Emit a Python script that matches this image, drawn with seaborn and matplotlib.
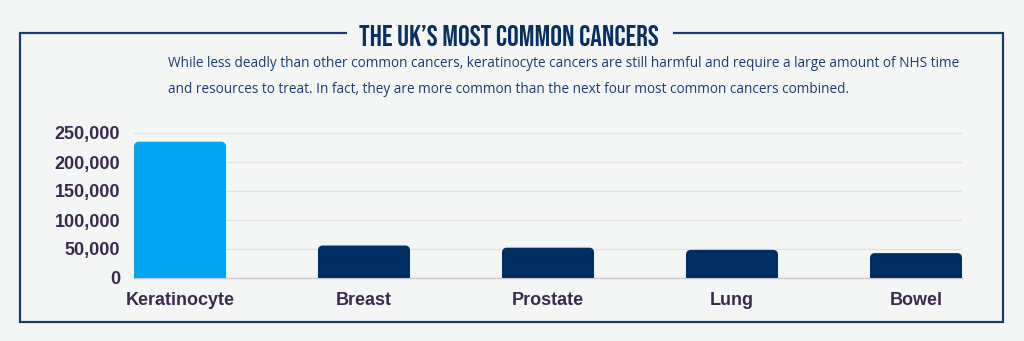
import matplotlib
matplotlib.use("Agg")
import matplotlib.pyplot as plt
import seaborn as sns
import pandas as pd
from matplotlib import font_manager
from matplotlib.patches import Rectangle, FancyBboxPatch
from matplotlib.ticker import FuncFormatter

categories = ["Keratinocyte", "Breast", "Prostate", "Lung", "Bowel"]
cases = [235000, 56000, 52300, 48500, 42900]
bar_colors = ["#00a6f0", "#002d62", "#002d62", "#002d62", "#002d62"]
y_ticks = [0, 50000, 100000, 150000, 200000, 250000]
title = "THE UK\u2019S MOST COMMON CANCERS"
subtitle = ("While less deadly than other common cancers, keratinocyte cancers are still harmful and require a large amount of NHS time\n"
            "and resources to treat. In fact, they are more common than the next four most common cancers combined.")

BG = "#f4f6f5"
NAVY = "#1d3b6e"
LABEL = "#3a2a4d"

available = {f.name for f in font_manager.fontManager.ttflist}
title_fonts = [f for f in ["Bebas Neue", "Oswald", "Liberation Sans Narrow"] if f in available] + ["DejaVu Sans"]

sns.set_theme(style="white")
plt.rcParams["font.family"] = ["Liberation Sans", "DejaVu Sans"]

fig = plt.figure(figsize=(10.24, 3.41), dpi=100, facecolor=BG)
ax = fig.add_axes([134/1024, 63/341, 828/1024, 145/341])
ax.set_facecolor(BG)

df = pd.DataFrame({"cat": categories, "val": cases})
sns.barplot(data=df, x="cat", y="val", hue="cat", palette=bar_colors,
            legend=False, width=0.5, saturation=1, ax=ax, zorder=3)

ax.set_xlim(-0.25, 4.25)
ax.set_ylim(0, 250000)
ax.set_yticks(y_ticks)
ax.yaxis.set_major_formatter(FuncFormatter(lambda v, p: f"{int(v):,}"))
ax.grid(axis="y", color="#e2e2e2", linewidth=1, zorder=0)
ax.set_xlabel("")
ax.set_ylabel("")
for s in ["top", "right", "left"]:
    ax.spines[s].set_visible(False)
ax.spines["bottom"].set_color("#cfc6d6")
ax.spines["bottom"].set_linewidth(1)
ax.tick_params(axis="both", length=0)
ax.tick_params(axis="y", pad=10)
ax.tick_params(axis="x", pad=10)
for lab in ax.get_yticklabels() + ax.get_xticklabels():
    lab.set_fontsize(13)
    lab.set_fontweight("bold")
    lab.set_color(LABEL)

# Rounded top corners
for p in list(ax.patches):
    x0, w, h = p.get_x(), p.get_width(), p.get_height()
    fc = p.get_facecolor()
    p.set_visible(False)
    r_y = 5 * 250000 / 145
    r_x = 5 * 4.5 / 828
    rb = FancyBboxPatch((x0 + r_x, 0), w - 2 * r_x, h - r_y,
                        boxstyle=f"round,pad={r_x},rounding_size={r_x}",
                        mutation_aspect=r_y / r_x, facecolor=fc, edgecolor="none", zorder=3)
    ax.add_patch(rb)
    ax.add_patch(Rectangle((x0, 0), w, h / 2, facecolor=fc, edgecolor="none", zorder=3))

# Border frame with a gap behind the title
fig.patches.append(Rectangle((20/1024, 1 - 322/341), 983/1024, 289/341,
                             transform=fig.transFigure, fill=False,
                             edgecolor=NAVY, linewidth=1.6, zorder=1))
fig.patches.append(Rectangle((347/1024, 1 - 40/341), 326/1024, 14/341,
                             transform=fig.transFigure, facecolor=BG,
                             edgecolor="none", zorder=2))

fig.text(509/1024, 1 - 35/341, title, ha="center", va="center",
         fontsize=21, color="#0a2f62", family=title_fonts, zorder=5)

fig.text(168/1024, 1 - 76.5/341, subtitle, ha="left", va="center",
         fontsize=9.8, color=NAVY, linespacing=2.0,
         family=["Open Sans", "DejaVu Sans"])

fig.savefig("out.png", dpi=100, facecolor=BG)
